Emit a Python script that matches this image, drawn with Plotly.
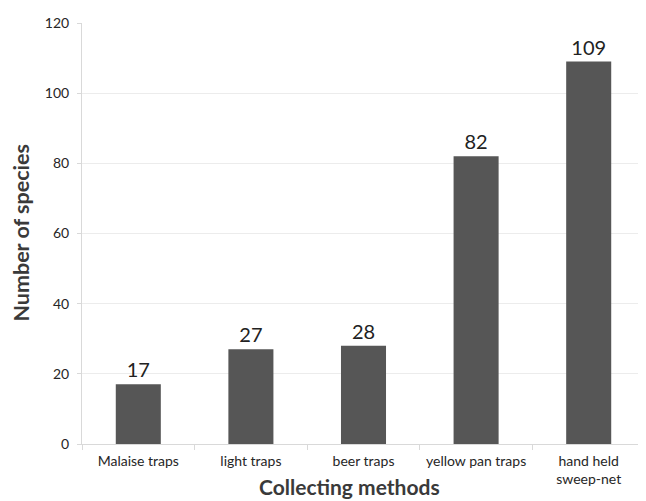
import plotly.graph_objects as go

categories = ["Malaise traps", "light traps", "beer traps", "yellow pan traps", "hand held<br>sweep-net"]
species = [17, 27, 28, 82, 109]
y_ticks = [0, 20, 40, 60, 80, 100, 120]

fig = go.Figure(go.Bar(
    x=categories, y=species,
    marker=dict(color="#565656", line=dict(width=0)),
    width=0.4,
    text=[str(v) for v in species],
    textposition="outside",
    textfont=dict(family="Lato", size=20, color="#222222"),
    cliponaxis=False,
))

# page body has an 8px margin, so the figure is shrunk and margins offset to compensate
fig.update_layout(
    width=638, height=493,
    margin=dict(l=74, r=1, t=15, b=57, autoexpand=False),
    paper_bgcolor="white", plot_bgcolor="white",
    font=dict(family="Lato", color="#333333"),
    showlegend=False,
    annotations=[
        dict(text="<b>Collecting methods</b>", xref="paper", yref="paper", x=0.476, y=-0.102,
             xanchor="center", yanchor="middle", showarrow=False,
             font=dict(family="Lato", size=21, color="#3a3a3a")),
        dict(text="<b>Number of species</b>", xref="paper", yref="paper", x=-0.11, y=0.5,
             xanchor="center", yanchor="middle", showarrow=False, textangle=-90,
             font=dict(family="Lato", size=21.5, color="#3a3a3a")),
    ],
)
fig.update_xaxes(
    automargin=False,
    tickson="boundaries", ticks="outside", ticklen=5, tickcolor="#d9d9d9",
    ticklabelstandoff=4,
    showline=True, linecolor="#d9d9d9", linewidth=1,
    tickfont=dict(family="Lato", size=14, color="#262626"),
)
fig.update_yaxes(
    automargin=False,
    range=[0, 120], tickvals=y_ticks, ticks="outside", ticklen=4, tickcolor="#d9d9d9",
    ticklabelstandoff=5,
    showline=True, linecolor="#d9d9d9", linewidth=1,
    showgrid=True, gridcolor="#ececec", zeroline=False,
    tickfont=dict(family="Lato", size=14, color="#262626"),
)

fig.write_html("out.html")
